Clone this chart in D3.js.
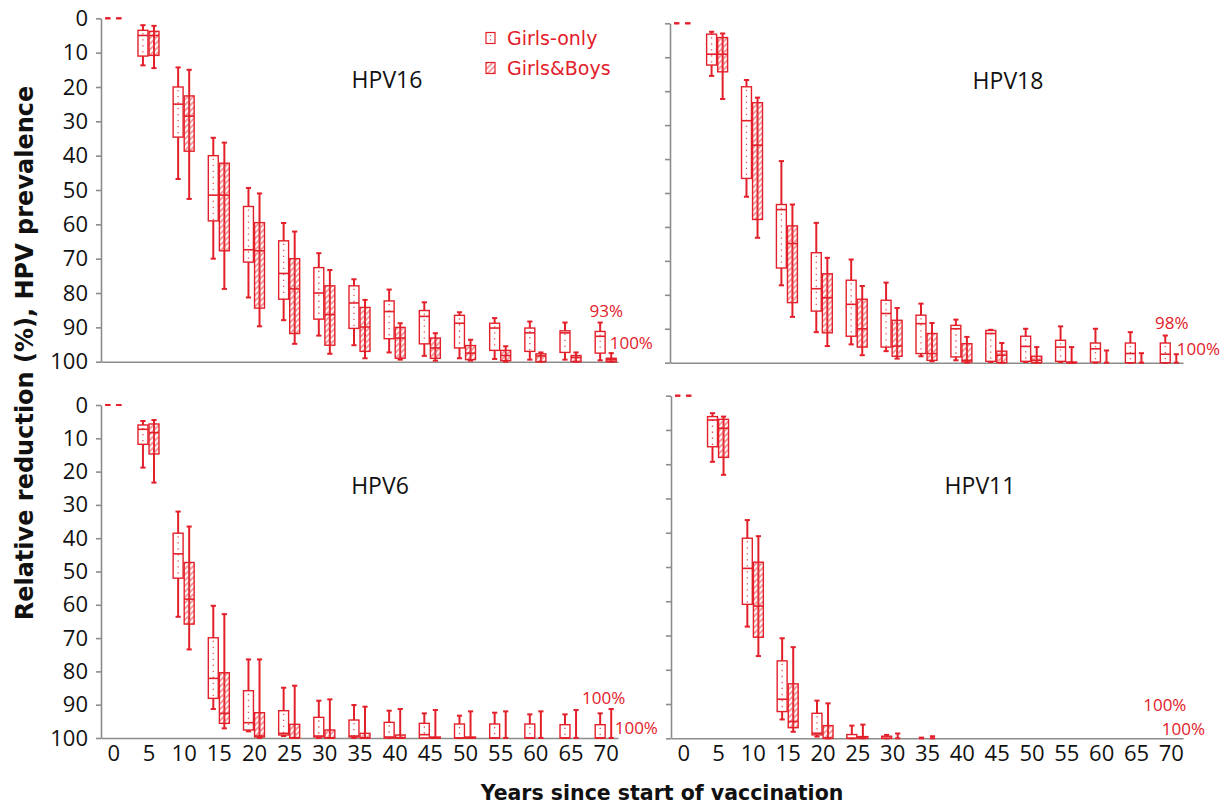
<!DOCTYPE html>
<html>
  <head>
    <title>HPV prevalence reduction</title>
    <script src="https://d3js.org/d3.v7.min.js"></script>
    <style>
      body {
        margin: 0;
        background-color: white;
      }
      .axis path, .axis line {
        stroke: #8c8c8c;
        stroke-width: 1.6px;
      }
      .axis text {
        font-family: "Open Sans", sans-serif;
        font-size: 22px;
        fill: #111;
      }
    </style>
  </head>
  <body>
    <script>
      // years since start of vaccination, and the y ticks
      const years = [0, 5, 10, 15, 20, 25, 30, 35, 40, 45, 50, 55, 60, 65, 70];
      const yTicks = [0, 10, 20, 30, 40, 50, 60, 70, 80, 90, 100];
      const groups = ['Girls-only', 'Girls&Boys'];

      // each row: [whisker low, q1, median, q3, whisker high] (relative reduction, %)
      const hpv16Girls = [[0,0,0,0,0],[2,3.5,5,11,13.7],[14.3,20,25,34.6,46.8],[34.8,40,51.5,59,70],
        [49.4,54.8,67.4,71,81.3],[59.6,64.8,74.3,81.8,87.9],[68.4,72.6,80,87.6,92.4],[76,77.9,82.9,90.3,95.2],
        [79,82.3,85.4,93.3,97.3],[82.7,85.1,86.8,94.8,98.3],[85.6,86.5,88.8,96,99],[87.3,88.8,90.2,96.7,99.2],
        [88.3,90.2,91.6,97,99.4],[88.6,91,91.6,97.3,99.4],[88.6,91.2,92.6,97.5,99.6]];
      const hpv16Both = [[0,0,0,0,0],[2.2,3.8,5,10.8,14.5],[15,22.6,28.5,38.7,52.6],[36.2,42.2,51.5,67.7,78.8],
        [51,59.5,67.7,84.4,89.7],[62.1,70,78.8,91.8,94.8],[73.3,77.9,86.3,95.2,97.7],[82,84.2,89.9,97,99],
        [88.8,90,93.1,99,99.4],[91.7,93.1,96,99,99.7],[93.6,95.3,97.5,99.4,99.7],[95.5,96.7,98.2,99.7,100],
        [97.3,97.7,98.3,100,100],[97.3,98.2,98.8,100,100],[97.5,99,99.4,100,100]];

      const hpv18Girls = [[0,0,0,0,0],[2.5,3.2,9.1,12.3,15.5],[16.7,18.7,28.7,45.7,51.1],[40.6,53.4,54.9,72.1,77.2],
        [58.8,67.6,78.2,84.8,91],[69.6,75.7,82.8,92.2,94.6],[76.4,81.6,85.5,95.4,96.6],[82.6,86,88.5,97.3,98.1],
        [87.3,89,90,98.3,99.3],[90.3,90.5,91.4,99.6,99.8],[90,92.2,95.2,99.6,99.8],[89.3,93.4,95.4,99.6,99.8],
        [90,94.2,95.9,99.8,100],[91,94.2,97.3,100,100],[92,94.2,97.5,100,100]];
      const hpv18Both = [[0,0,0,0,0],[3,4.2,9.1,14.3,22.3],[21.9,23.4,35.9,57.8,63.2],[53.4,59.7,64.9,82.3,86.5],
        [69.1,73.8,80.9,91.2,95.1],[77.4,81.3,90,95.4,97.8],[83.9,87.5,95.1,98.1,98.8],[88.3,91.4,97.3,99.3,99.6],
        [92.4,94.4,99.3,99.8,100],[94.2,96.6,97.8,100,100],[95.4,98.1,99.3,100,100],[95.4,99.8,100,100,100],
        [96.4,100,100,100,100],[97.2,100,100,100,100],[97.5,100,100,100,100]];

      const hpv6Girls = [[0,0,0,0,0],[4.8,6,7.3,11.8,18.8],[32,38.5,44.7,52,63.6],[60.3,69.9,82.1,88.1,91.3],
        [76.4,85.8,95.4,97.6,98],[84.9,91.8,98.6,99.1,99.4],[88.8,93.8,99.4,99.7,100],[90.1,94.6,99.4,99.7,100],
        [91.8,95.3,99.7,100,100],[92.6,95.6,99,100,100],[93.3,95.8,100,100,100],[92.4,95.8,100,100,100],
        [92.9,95.8,100,100,100],[92.9,96,100,100,100],[92.6,96,100,100,100]];
      const hpv6Both = [[0,0,0,0,0],[4.5,5.7,8.3,14.7,23.3],[36.5,47.3,58.3,65.8,73.4],[62.8,80.4,92.6,95.6,97.1],
        [76.4,92.4,99.4,99.7,100],[84.3,95.9,99.9,100,100],[88.4,97.6,100,100,100],[90.6,98.6,100,100,100],
        [91.3,99.1,100,100,100],[91.6,99.7,100,100,100],[92,99.7,100,100,100],[92,100,100,100,100],
        [92,100,100,100,100],[91.6,100,100,100,100],[91.3,100,100,100,100]];

      const hpv11Girls = [[0,0,0,0,0],[5.1,6.1,7.1,14.9,19.3],[36.3,41.6,50.4,60.9,67.4],[70.8,77.4,88.6,92.2,94.5],
        [89,92.7,98.5,99,99.5],[96.3,98.9,100,100,100],[99,99.4,100,100,100],[99.8,100,100,100,100],
        [100,100,100,100,100],[100,100,100,100,100],[100,100,100,100,100],[100,100,100,100,100],
        [100,100,100,100,100],[100,100,100,100,100],[100,100,100,100,100]];
      const hpv11Both = [[0,0,0,0,0],[6.1,6.9,9.5,18,23.1],[41,48.6,61.4,70.5,76],[73.4,84.1,95.1,96.9,98.1],
        [89.8,96.3,100,100,100],[96,99.5,100,100,100],[98.6,100,100,100,100],[99.4,100,100,100,100],
        [100,100,100,100,100],[100,100,100,100,100],[100,100,100,100,100],[100,100,100,100,100],
        [100,100,100,100,100],[100,100,100,100,100],[100,100,100,100,100]];

      // reductions written at year 70: [Girls-only, Girls&Boys]
      const notes16 = ['93%', '100%'];
      const notes18 = ['98%', '100%'];
      const notes6 = ['100%', '100%'];
      const notes11 = ['100%', '100%'];

      const red = '#e3202a';
      const w = 1227;
      const h = 806;

      const svg = d3.select('body')
                    .append('svg')
                    .attr('width', w)
                    .attr('height', h);

      const defs = svg.append('defs');
      defs.append('pattern')
          .attr('id', 'hatch')
          .attr('patternUnits', 'userSpaceOnUse')
          .attr('width', 4)
          .attr('height', 4)
          .attr('patternTransform', 'rotate(45)')
          .append('line')
          .attr('x1', 1).attr('y1', 0)
          .attr('x2', 1).attr('y2', 4)
          .attr('stroke', '#e84a50')
          .attr('stroke-width', 1.1);

      // panel layout: plot area in pixels, label place, note offsets from year 70
      const panels = [
        {name: 'HPV16', data: [hpv16Girls, hpv16Both], notes: notes16, xr: [101, 618], yr: [18.3, 361.7],
         yLabels: true, xLabels: false, lx: 387, ly: 79,
         nPos: [{dx: 0.5, v: 85.2, anchor: 'middle'}, {dx: 4, v: 94.3, anchor: 'start'}]},
        {name: 'HPV18', data: [hpv18Girls, hpv18Both], notes: notes18, xr: [670, 1183], yr: [23.3, 362.7],
         yLabels: false, xLabels: false, lx: 1008, ly: 80,
         nPos: [{dx: 1, v: 88.2, anchor: 'middle'}, {dx: 6, v: 95.8, anchor: 'start'}]},
        {name: 'HPV6', data: [hpv6Girls, hpv6Both], notes: notes6, xr: [101, 618], yr: [405, 738],
         yLabels: true, xLabels: true, lx: 380, ly: 485,
         nPos: [{dx: -2, v: 87.7, anchor: 'middle'}, {dx: 9, v: 96.7, anchor: 'start'}]},
        {name: 'HPV11', data: [hpv11Girls, hpv11Both], notes: notes11, xr: [671, 1183], yr: [395.7, 738.3],
         yLabels: false, xLabels: true, lx: 980, ly: 485,
         nPos: [{dx: -6, v: 90.2, anchor: 'middle'}, {dx: -9, v: 97.2, anchor: 'start'}]}
      ];

      const inner = d3.scaleBand()
                      .domain(groups)
                      .range([-10.5, 10.5])
                      .paddingInner(0.1);

      panels.forEach(p => {
        const x = d3.scalePoint().domain(years).range(p.xr).padding(0.35);
        const y = d3.scaleLinear().domain([0, 100]).range(p.yr);
        const g = svg.append('g');

        const yAxis = d3.axisLeft(y).tickValues(yTicks).tickSize(5).tickSizeOuter(0).tickPadding(8);
        if (!p.yLabels) yAxis.tickFormat('');
        g.append('g')
         .attr('class', 'axis')
         .attr('transform', `translate(${p.xr[0]},0)`)
         .call(yAxis);

        const xAxis = d3.axisBottom(x).tickSize(0).tickSizeOuter(0).tickPadding(7);
        if (!p.xLabels) xAxis.tickFormat('');
        g.append('g')
         .attr('class', 'axis')
         .attr('transform', `translate(0,${p.yr[1]})`)
         .call(xAxis);

        p.data.forEach((series, gi) => {
          const rows = years.map((yr, i) => ({
            year: yr, lo: series[i][0], q1: series[i][1], med: series[i][2], q3: series[i][3], hi: series[i][4]
          }));
          const left = d => x(d.year) + inner(groups[gi]);
          const mid = d => left(d) + inner.bandwidth() / 2;
          const s = g.append('g');

          // whisker line and caps (nothing left to draw once everything sits at 100)
          s.selectAll('.whisker')
           .data(rows.filter(d => d.hi > d.lo))
           .enter()
           .append('line')
           .attr('x1', mid).attr('x2', mid)
           .attr('y1', d => y(d.lo)).attr('y2', d => y(d.hi))
           .attr('stroke', red)
           .attr('stroke-width', 2);

          ['lo', 'hi'].forEach(k => {
            s.selectAll('.cap-' + k)
             .data(rows.filter(d => d.lo < 100))
             .enter()
             .append('line')
             .attr('x1', d => mid(d) - 2.6).attr('x2', d => mid(d) + 2.6)
             .attr('y1', d => y(d[k])).attr('y2', d => y(d[k]))
             .attr('stroke', red)
             .attr('stroke-width', 2);
          });

          const boxes = rows.filter(d => d.q3 > d.q1);
          s.selectAll('.box')
           .data(boxes)
           .enter()
           .append('rect')
           .attr('x', left)
           .attr('y', d => y(d.q1))
           .attr('width', inner.bandwidth())
           .attr('height', d => y(d.q3) - y(d.q1))
           .attr('fill', gi === 0 ? 'white' : 'url(#hatch)')
           .attr('stroke', red)
           .attr('stroke-width', 1.4);

          if (gi === 0) {
            // dotted fill of the Girls-only boxes
            s.selectAll('.dots')
             .data(boxes)
             .enter()
             .append('line')
             .attr('x1', mid).attr('x2', mid)
             .attr('y1', d => y(d.q1) + 3).attr('y2', d => y(d.q3) - 1)
             .attr('stroke', '#e0505a')
             .attr('stroke-width', 1.3)
             .attr('stroke-dasharray', '1.3 4.7');
          }

          s.selectAll('.median')
           .data(boxes)
           .enter()
           .append('line')
           .attr('x1', left).attr('x2', d => left(d) + inner.bandwidth())
           .attr('y1', d => y(d.med)).attr('y2', d => y(d.med))
           .attr('stroke', red)
           .attr('stroke-width', 1.6);
        });

        g.append('text')
         .attr('x', p.lx)
         .attr('y', p.ly)
         .attr('text-anchor', 'middle')
         .attr('dominant-baseline', 'central')
         .style('font-family', '"Open Sans", sans-serif')
         .style('font-size', '23px')
         .style('fill', '#111')
         .text(p.name);

        g.selectAll('.note')
         .data(p.notes)
         .enter()
         .append('text')
         .attr('x', (d, i) => x(70) + p.nPos[i].dx)
         .attr('y', (d, i) => y(p.nPos[i].v))
         .attr('text-anchor', (d, i) => p.nPos[i].anchor)
         .attr('dominant-baseline', 'central')
         .style('font-family', '"Open Sans", sans-serif')
         .style('font-size', '17px')
         .style('fill', red)
         .text(d => d);
      });

      // legend
      const legend = svg.append('g').attr('transform', 'translate(486,0)');
      legend.selectAll('rect')
            .data(groups)
            .enter()
            .append('rect')
            .attr('x', 0)
            .attr('y', (d, i) => 32.5 + i * 30)
            .attr('width', 9)
            .attr('height', 11)
            .attr('fill', (d, i) => i === 0 ? 'white' : 'url(#hatch)')
            .attr('stroke', red)
            .attr('stroke-width', 1.2);
      legend.append('line')
            .attr('x1', 4.5).attr('x2', 4.5)
            .attr('y1', 35).attr('y2', 43.5)
            .attr('stroke', '#e0505a')
            .attr('stroke-width', 1.3)
            .attr('stroke-dasharray', '1.3 3');
      legend.selectAll('text')
            .data(groups)
            .enter()
            .append('text')
            .attr('x', 21)
            .attr('y', (d, i) => 38 + i * 30)
            .attr('dominant-baseline', 'central')
            .style('font-family', '"DejaVu Sans", sans-serif')
            .style('font-size', '19px')
            .style('fill', red)
            .text(d => d);

      // axis titles
      svg.append('text')
         .attr('transform', 'translate(25,353) rotate(-90)')
         .attr('text-anchor', 'middle')
         .attr('dominant-baseline', 'central')
         .style('font-family', '"DejaVu Sans", sans-serif')
         .style('font-weight', 'bold')
         .style('font-size', '24px')
         .style('fill', '#111')
         .text('Relative reduction (%), HPV prevalence');

      svg.append('text')
         .attr('x', 662)
         .attr('y', 793)
         .attr('text-anchor', 'middle')
         .attr('dominant-baseline', 'central')
         .style('font-family', '"DejaVu Sans", sans-serif')
         .style('font-weight', 'bold')
         .style('font-size', '20.5px')
         .style('fill', '#111')
         .text('Years since start of vaccination');
    </script>
  </body>
</html>
